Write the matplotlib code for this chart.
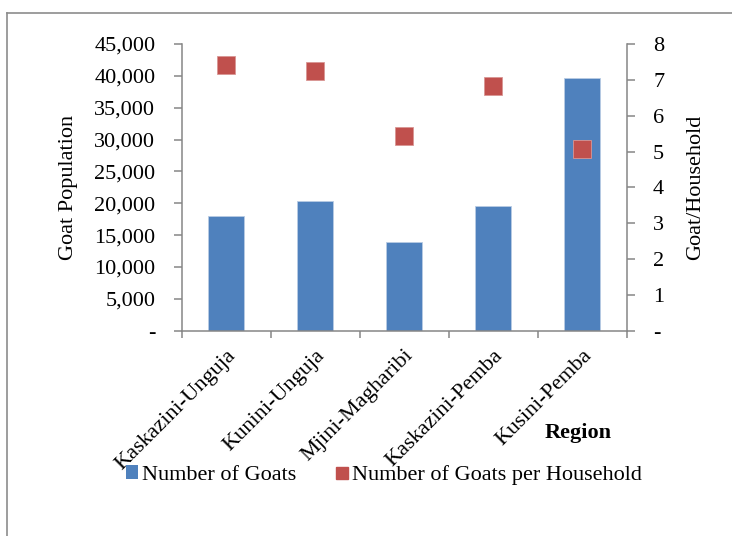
import matplotlib

matplotlib.use("Agg")
import matplotlib.pyplot as plt
from matplotlib.lines import Line2D
from matplotlib.patches import Patch
from matplotlib.ticker import FuncFormatter, FixedLocator

regions = ["Kaskazini-Unguja", "Kunini-Unguja", "Mjini-Magharibi", "Kaskazini-Pemba", "Kusini-Pemba"]
goats = [18050, 20300, 13900, 19500, 39700]
goats_per_household = [7.41, 7.26, 5.44, 6.83, 5.08]

BLUE = "#4F81BD"
RED = "#C0504D"
GREY = "#868686"
FS = 16

plt.rcParams["font.family"] = ["Liberation Serif", "DejaVu Serif"]

fig = plt.figure(figsize=(7.32, 5.36), dpi=100)
ax = fig.add_axes([181.7 / 732, 1 - 330.7 / 536, 445 / 732, 286.7 / 536])
ax2 = ax.twinx()

x = list(range(len(regions)))
ax.bar(x, goats, width=0.4, color=BLUE, edgecolor="#B8CCE4", linewidth=0.6, zorder=2)
ax2.plot(x, goats_per_household, linestyle="none", marker="s", markersize=13.5,
         color=RED, markeredgecolor="#D99694", markeredgewidth=0.6, zorder=3)

ax.set_xlim(-0.5, len(regions) - 0.5)
ax.set_ylim(0, 45000)
ax2.set_ylim(0, 8)

ax.set_yticks(range(0, 45001, 5000))
ax.yaxis.set_major_formatter(FuncFormatter(lambda v, p: "-" if v == 0 else f"{v:,.0f}"))
ax2.set_yticks(range(0, 9))
ax2.yaxis.set_major_formatter(FuncFormatter(lambda v, p: "-" if v == 0 else f"{v:.0f}"))

# category labels at centres, tick marks at boundaries
ax.set_xticks(x)
ax.set_xticklabels(regions, rotation=45, ha="right", va="top", rotation_mode="anchor", fontsize=FS)
ax.tick_params(axis="x", which="major", length=0, pad=11)
ax.xaxis.set_minor_locator(FixedLocator([i - 0.5 for i in range(len(regions) + 1)]))
ax.tick_params(axis="x", which="minor", length=5, width=1.1, color=GREY, direction="out")

ax.tick_params(axis="y", length=6, width=1.1, color=GREY, pad=13, labelsize=FS)
ax2.tick_params(axis="y", length=6, width=1.1, color=GREY, pad=13, labelsize=FS)

for a in (ax, ax2):
    a.spines["top"].set_visible(False)
    for s in ("left", "right", "bottom"):
        a.spines[s].set_color(GREY)
        a.spines[s].set_linewidth(1.1)
ax.spines["right"].set_visible(False)
ax2.spines["left"].set_visible(False)
ax2.spines["bottom"].set_visible(False)

ax.set_ylabel("Goat Population", fontsize=FS, labelpad=12)
ax2.set_ylabel("Goat/Household", fontsize=FS, labelpad=16)

fig.text(578 / 732, 1 - 433 / 536, "Region", fontsize=FS, fontweight="bold", ha="center", va="center")

handles = [
    Patch(facecolor=BLUE, edgecolor="none"),
    Line2D([], [], linestyle="none", marker="s", markersize=9, color=RED),
]
fig.legend(handles, ["Number of Goats", "Number of Goats per Household"], loc="center",
           bbox_to_anchor=(384 / 732, 1 - 475 / 536), ncol=2, frameon=False, fontsize=FS,
           handlelength=0.55, handleheight=0.55, handletextpad=0.2, columnspacing=1.75)

# outer frame of the chart area (right and bottom edges are outside the image)
fig.add_artist(Line2D([7 / 732, 7 / 732], [0, 1 - 13 / 536], transform=fig.transFigure,
                      color="#8C8C8C", linewidth=1.2))
fig.add_artist(Line2D([7 / 732, 1], [1 - 13 / 536, 1 - 13 / 536], transform=fig.transFigure,
                      color="#8C8C8C", linewidth=1.2))

fig.savefig("out.png", dpi=100)
